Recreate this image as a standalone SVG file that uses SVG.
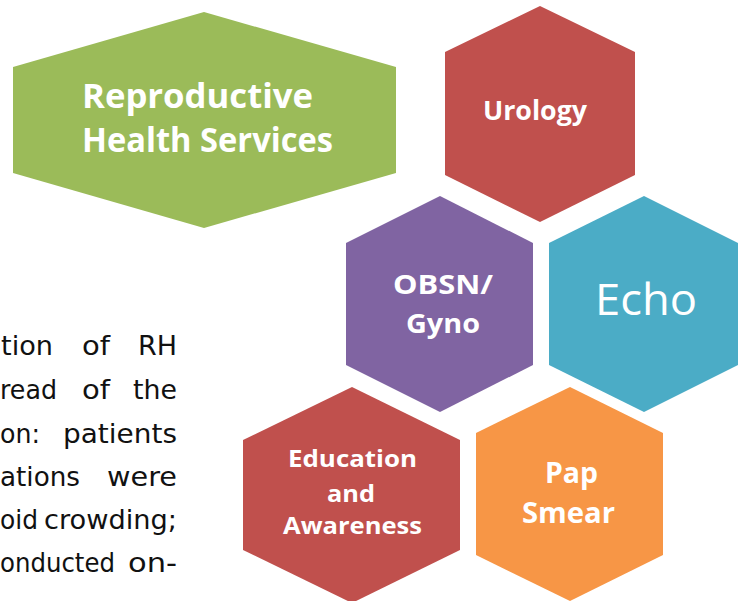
<svg xmlns="http://www.w3.org/2000/svg" width="745" height="601" viewBox="0 0 745 601">
<style>
.lbl{font-family:"Open Sans","Liberation Sans",sans-serif;font-weight:700;fill:#ffffff}
.echo{font-family:"Open Sans","Liberation Sans",sans-serif;font-weight:400;fill:#ffffff}
.body{font-family:"DejaVu Sans","Liberation Sans",sans-serif;font-size:27px;fill:#111111}
.green{fill:#9BBB59}.red{fill:#C0504D}.purple{fill:#8064A2}.teal{fill:#4BACC6}.orange{fill:#F79646}
</style>
<rect width="745" height="601" fill="#ffffff"/>
<g id="body-text" class="body">
<text x="1" y="355" textLength="52" lengthAdjust="spacingAndGlyphs">tion</text>
<text x="82" y="355" textLength="28" lengthAdjust="spacingAndGlyphs">of</text>
<text x="138" y="355" textLength="39" lengthAdjust="spacingAndGlyphs">RH</text>
<text x="0" y="399" textLength="57" lengthAdjust="spacingAndGlyphs">read</text>
<text x="82" y="399" textLength="28" lengthAdjust="spacingAndGlyphs">of</text>
<text x="133" y="399" textLength="44" lengthAdjust="spacingAndGlyphs">the</text>
<text x="0" y="443" textLength="40" lengthAdjust="spacingAndGlyphs">on:</text>
<text x="63" y="443" textLength="114" lengthAdjust="spacingAndGlyphs">patients</text>
<text x="0" y="486" textLength="80" lengthAdjust="spacingAndGlyphs">ations</text>
<text x="107" y="486" textLength="70" lengthAdjust="spacingAndGlyphs">were</text>
<text x="0" y="529" textLength="38" lengthAdjust="spacingAndGlyphs">oid</text>
<text x="44" y="529" textLength="133" lengthAdjust="spacingAndGlyphs">crowding;</text>
<text x="0" y="572" textLength="115" lengthAdjust="spacingAndGlyphs">onducted</text>
<text x="128" y="572" textLength="49" lengthAdjust="spacingAndGlyphs">on-</text>
</g>
<g id="connectors"></g>
<g id="node-rh">
<polygon class="green" points="204,12 396,67 396,173 204,228 13,173 13,67"/>
<text class="lbl" font-size="34" x="82" y="108" textLength="231" lengthAdjust="spacingAndGlyphs">Reproductive</text>
<text class="lbl" font-size="34" x="82" y="152" textLength="251" lengthAdjust="spacingAndGlyphs">Health Services</text>
</g>
<g id="node-urology">
<polygon class="red" points="540,6 635,52 635,175 540,222 445,175 445,52"/>
<text class="lbl" font-size="26" x="483" y="120" textLength="104" lengthAdjust="spacingAndGlyphs">Urology</text>
</g>
<g id="node-obsn">
<polygon class="purple" points="440,196 533,243 533,365 440,412 346,365 346,243"/>
<text class="lbl" font-size="27" x="393" y="294" textLength="100" lengthAdjust="spacingAndGlyphs">OBSN/</text>
<text class="lbl" font-size="27" x="406" y="333" textLength="74" lengthAdjust="spacingAndGlyphs">Gyno</text>
</g>
<g id="node-echo">
<polygon class="teal" points="644,196 738,243 738,365 644,412 549,365 549,243"/>
<text class="echo" font-size="43" x="595" y="315" textLength="102" lengthAdjust="spacingAndGlyphs">Echo</text>
</g>
<g id="node-education">
<polygon class="red" points="352,387 460,440 460,550 352,603 243,550 243,440"/>
<text class="lbl" font-size="24" x="288" y="467" textLength="129" lengthAdjust="spacingAndGlyphs">Education</text>
<text class="lbl" font-size="24" x="327" y="502" textLength="48" lengthAdjust="spacingAndGlyphs">and</text>
<text class="lbl" font-size="24" x="283" y="534" textLength="139" lengthAdjust="spacingAndGlyphs">Awareness</text>
</g>
<g id="node-pap">
<polygon class="orange" points="570,387 663,433 663,555 570,601 476,555 476,433"/>
<text class="lbl" font-size="28" x="545" y="483" textLength="53" lengthAdjust="spacingAndGlyphs">Pap</text>
<text class="lbl" font-size="28" x="522" y="523" textLength="93" lengthAdjust="spacingAndGlyphs">Smear</text>
</g>
</svg>
